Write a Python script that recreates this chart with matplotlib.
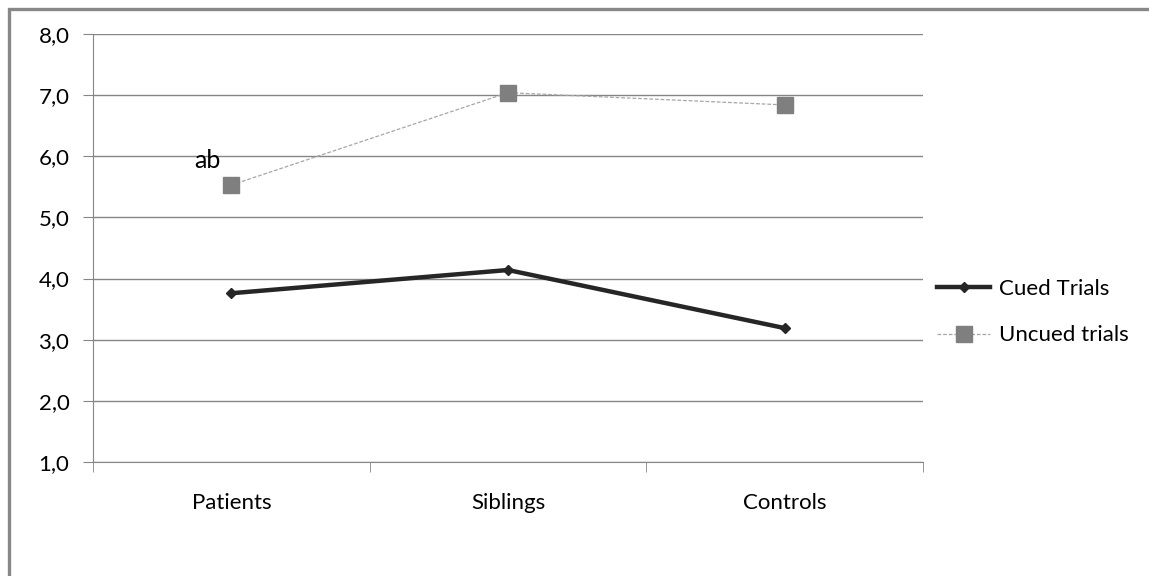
import numpy as np
import matplotlib.pyplot as plt
from matplotlib.patches import Rectangle

plt.rcParams['font.family'] = ['Lato', 'DejaVu Sans']
plt.rcParams['font.size'] = 16

groups = ['Patients', 'Siblings', 'Controls']
cued = [3.76, 4.14, 3.19]
uncued = [5.53, 7.04, 6.84]
y_ticks = [1, 2, 3, 4, 5, 6, 7, 8]

fig = plt.figure(figsize=(11.49, 5.76), dpi=100)
fig.patches.append(Rectangle((9 / 1149, -0.1), 1.2, 1.1 - 9 / 576,
                             transform=fig.transFigure, fill=False,
                             edgecolor='#888888', linewidth=2.4, zorder=0))

ax = fig.add_axes([93 / 1149, 114 / 576, 830 / 1149, 428 / 576])
x = np.arange(len(groups))

ax.plot(x, cued, color='#262626', linewidth=3.2, marker='D', markersize=5,
        label='Cued Trials', zorder=3)
ax.plot(x, uncued, color='#a6a6a6', linewidth=0.9, linestyle=(0, (3, 1.5)),
        marker='s', markersize=11, markerfacecolor='#7f7f7f',
        markeredgecolor='#7f7f7f', label='Uncued trials', zorder=3)

ax.text(-0.087, 5.93, 'ab', ha='center', va='center', fontsize=18)

ax.set_xlim(-0.5, 2.5)
ax.set_ylim(1, 8)
ax.set_yticks(y_ticks)
ax.set_yticklabels([f'{v:.1f}'.replace('.', ',') for v in y_ticks])
ax.set_xticks(x)
ax.set_xticklabels(groups)
ax.set_xticks([-0.5, 0.5, 1.5, 2.5], minor=True)
ax.tick_params(axis='x', which='major', length=0, pad=22, labelsize=16)
ax.tick_params(axis='x', which='minor', length=7, color='#868686', direction='out')
ax.tick_params(axis='y', length=7, color='#868686', pad=10, labelsize=16)
ax.yaxis.grid(True, color='#868686', linewidth=1)
ax.set_axisbelow(True)
for s in ['top', 'right']:
    ax.spines[s].set_visible(False)
for s in ['left', 'bottom']:
    ax.spines[s].set_color('#868686')

ax.legend(loc='center left', bbox_to_anchor=(928 / 1149, 264 / 576),
          bbox_transform=fig.transFigure, frameon=False, fontsize=16,
          handlelength=2.4, labelspacing=1.2, handletextpad=0.4,
          borderaxespad=0)

fig.savefig('out.png', dpi=100)
